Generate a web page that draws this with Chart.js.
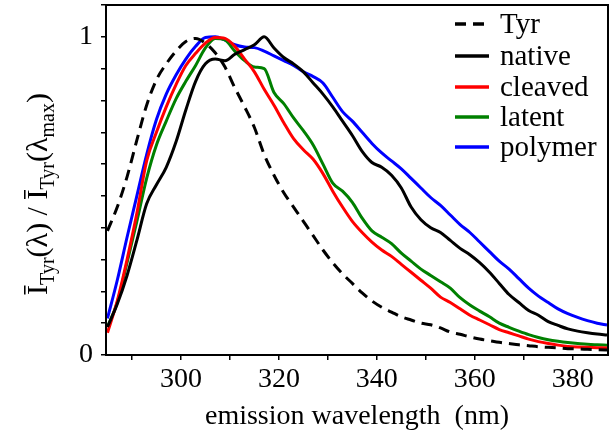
<!DOCTYPE html>
<html>
<head>
<meta charset="utf-8">
<script src="https://cdn.jsdelivr.net/npm/chart.js@4/dist/chart.umd.min.js"></script>
<style>
  html, body { margin: 0; padding: 0; background: #fff; }
  #caja { width: 613px; height: 433px; position: relative; }
  #precarga { position: absolute; left: -9999px; font-family: "Liberation Serif"; font-size: 28px; }
</style>
</head>
<body>
<span id="precarga">300 native λ Ī</span>
<div id="caja"><canvas id="grafico"></canvas></div>
<script>
// Longitudes de onda (nm) de los puntos leídos
const wavelengths = [
  285, 287, 289, 291, 293, 295, 297, 299, 301, 303,
  305, 307, 309, 311, 313, 315, 317, 319, 321, 323,
  325, 327, 329, 331, 333, 335, 337, 339, 341, 343,
  345, 347, 349, 351, 353, 355, 357, 359, 361, 363,
  365, 367, 369, 371, 373, 375, 377, 379, 381, 383,
  385, 387
];

const tyr = [
  0.39, 0.465, 0.56, 0.675, 0.785, 0.865, 0.915, 0.955, 0.985, 0.995,
  0.98, 0.95, 0.905, 0.84, 0.78, 0.715, 0.63, 0.565, 0.51, 0.465,
  0.42, 0.375, 0.33, 0.29, 0.255, 0.225, 0.195, 0.17, 0.15, 0.135,
  0.12, 0.11, 0.10, 0.095, 0.085, 0.072, 0.065, 0.057, 0.05, 0.045,
  0.04, 0.036, 0.032, 0.029, 0.026, 0.024, 0.022, 0.02, 0.019, 0.018,
  0.017, 0.016
];

const native = [
  0.088, 0.16, 0.25, 0.36, 0.475, 0.535, 0.59, 0.67, 0.77, 0.86,
  0.915, 0.93, 0.925, 0.945, 0.96, 0.975, 1.0, 0.965, 0.935, 0.915,
  0.89, 0.855, 0.82, 0.78, 0.735, 0.69, 0.64, 0.605, 0.59, 0.565,
  0.525, 0.465, 0.425, 0.40, 0.385, 0.36, 0.335, 0.315, 0.29, 0.26,
  0.225, 0.19, 0.165, 0.14, 0.125, 0.105, 0.093, 0.082, 0.075, 0.07,
  0.066, 0.063
];

const cleaved = [
  0.07, 0.17, 0.30, 0.445, 0.61, 0.70, 0.78, 0.85, 0.91, 0.948,
  0.98, 0.998, 0.995, 0.97, 0.93, 0.89, 0.835, 0.785, 0.73, 0.68,
  0.645, 0.615, 0.57, 0.515, 0.465, 0.42, 0.385, 0.355, 0.33, 0.31,
  0.285, 0.26, 0.235, 0.21, 0.182, 0.165, 0.145, 0.125, 0.11, 0.095,
  0.08, 0.07, 0.06, 0.05, 0.042, 0.036, 0.031, 0.027, 0.025, 0.024,
  0.023, 0.022
];

const latent = [
  0.088, 0.165, 0.29, 0.42, 0.555, 0.66, 0.735, 0.805, 0.86, 0.91,
  0.965, 0.995, 0.99, 0.955, 0.925, 0.905, 0.90, 0.825, 0.79, 0.745,
  0.705, 0.66, 0.60, 0.54, 0.515, 0.48, 0.43, 0.39, 0.37, 0.35,
  0.32, 0.295, 0.27, 0.25, 0.23, 0.21, 0.18, 0.157, 0.138, 0.12,
  0.10, 0.087, 0.075, 0.064, 0.055, 0.048, 0.043, 0.039, 0.036, 0.034,
  0.032, 0.031
];

const polymer = [
  0.115, 0.235, 0.37, 0.50, 0.63, 0.74, 0.82, 0.88, 0.93, 0.97,
  0.998, 1.0, 0.99, 0.975, 0.968, 0.966, 0.955, 0.94, 0.925, 0.91,
  0.89, 0.875, 0.855, 0.81, 0.765, 0.735, 0.70, 0.665, 0.635, 0.61,
  0.585, 0.555, 0.525, 0.495, 0.47, 0.44, 0.41, 0.385, 0.355, 0.325,
  0.295, 0.27, 0.24, 0.21, 0.185, 0.165, 0.145, 0.13, 0.118, 0.108,
  0.10, 0.094
];

const seriesNames = ['Tyr', 'native', 'cleaved', 'latent', 'polymer'];
const seriesColors = ['#000000', '#000000', '#ff0000', '#008000', '#0000ff'];
const seriesDash = [[11, 7], [], [], [], []];
const seriesValues = [tyr, native, cleaved, latent, polymer];

const xTickLabels = [300, 320, 340, 360, 380];
const yTickLabels = [0, 1];

const fuente = '"Liberation Serif", "DejaVu Serif", "Times New Roman", serif';

function puntos(valores) {
  return wavelengths.map((w, i) => ({ x: w, y: valores[i] }));
}

// Caja completa alrededor del área del gráfico + leyenda + título del eje Y
const extras = {
  id: 'extras',
  afterDraw(chart) {
    const ctx = chart.ctx;
    const a = chart.chartArea;
    ctx.save();
    ctx.strokeStyle = '#000';
    ctx.lineWidth = 2;
    ctx.strokeRect(a.left, a.top, a.right - a.left, a.bottom - a.top);

    // Leyenda
    const filas = [24, 56, 87, 117, 147];
    ctx.font = '29px ' + fuente;
    ctx.textBaseline = 'middle';
    ctx.fillStyle = '#000';
    seriesNames.forEach((nombre, i) => {
      ctx.beginPath();
      ctx.setLineDash(seriesDash[i]);
      ctx.lineWidth = 3.5;
      ctx.strokeStyle = seriesColors[i];
      ctx.moveTo(455, filas[i]);
      ctx.lineTo(489, filas[i]);
      ctx.stroke();
      ctx.setLineDash([]);
      ctx.fillText(nombre, 500, filas[i] + 1);
    });

    // Título del eje Y con subíndices
    const partes = [
      ['Ī', 0], ['Tyr', 1], ['(λ) / Ī', 0], ['Tyr', 1], ['(λ', 0], ['max', 1], [')', 0]
    ];
    const grande = '30px ' + fuente;
    const chica = '20px ' + fuente;
    let total = 0;
    partes.forEach(p => {
      ctx.font = p[1] ? chica : grande;
      total += ctx.measureText(p[0]).width;
    });
    ctx.translate(47, 194);
    ctx.rotate(-Math.PI / 2);
    ctx.textBaseline = 'alphabetic';
    let xx = -total / 2;
    partes.forEach(p => {
      ctx.font = p[1] ? chica : grande;
      ctx.fillText(p[0], xx, p[1] ? 7 : 0);
      xx += ctx.measureText(p[0]).width;
    });
    ctx.restore();
  }
};

function dibujar() {
  new Chart(document.getElementById('grafico'), {
    type: 'line',
    data: {
      datasets: seriesNames.map((nombre, i) => ({
        label: nombre,
        data: puntos(seriesValues[i]),
        borderColor: seriesColors[i],
        borderDash: seriesDash[i],
        borderWidth: 3,
        pointRadius: 0,
        fill: false,
        cubicInterpolationMode: 'monotone'
      }))
    },
    options: {
      responsive: true,
      maintainAspectRatio: false,
      animation: false,
      layout: { padding: { top: 5, right: 5, left: 0, bottom: 0 } },
      plugins: {
        legend: { display: false },
        tooltip: { enabled: false }
      },
      scales: {
        x: {
          type: 'linear',
          min: 284.7,
          max: 387.2,
          afterFit: s => { s.height = 78; s.paddingLeft = 0; s.paddingRight = 0; },
          border: { color: '#000', width: 2 },
          grid: { drawOnChartArea: false, drawTicks: true, tickLength: 5, color: '#000', lineWidth: 1.5 },
          ticks: {
            stepSize: 10,
            includeBounds: false,
            maxRotation: 0,
            autoSkip: false,
            padding: 3,
            color: '#000',
            font: { family: fuente, size: 28 },
            callback: v => xTickLabels.includes(v) ? String(v) : ''
          },
          title: {
            display: true,
            text: 'emission wavelength  (nm)',
            color: '#000',
            font: { family: fuente, size: 28 },
            padding: { top: 0, bottom: 0 }
          }
        },
        y: {
          min: 0,
          max: 1.1,
          afterFit: s => { s.width = 106; s.paddingTop = 0; s.paddingBottom = 0; },
          border: { color: '#000', width: 2 },
          grid: { drawOnChartArea: false, drawTicks: true, tickLength: 5, color: '#000', lineWidth: 1.5 },
          ticks: {
            stepSize: 0.1,
            includeBounds: false,
            autoSkip: false,
            padding: 8,
            color: '#000',
            font: { family: fuente, size: 28 },
            callback: v => {
              const t = yTickLabels.find(k => Math.abs(k - v) < 1e-6);
              return t === undefined ? '' : String(t);
            }
          }
        }
      }
    },
    plugins: [extras]
  });
}

// Esperar a que la fuente esté lista antes de dibujar
if (document.fonts && document.fonts.load) {
  Promise.all([
    document.fonts.load('28px "Liberation Serif"'),
    document.fonts.load('28px "DejaVu Serif"')
  ]).then(dibujar, dibujar);
} else {
  dibujar();
}
</script>
</body>
</html>
